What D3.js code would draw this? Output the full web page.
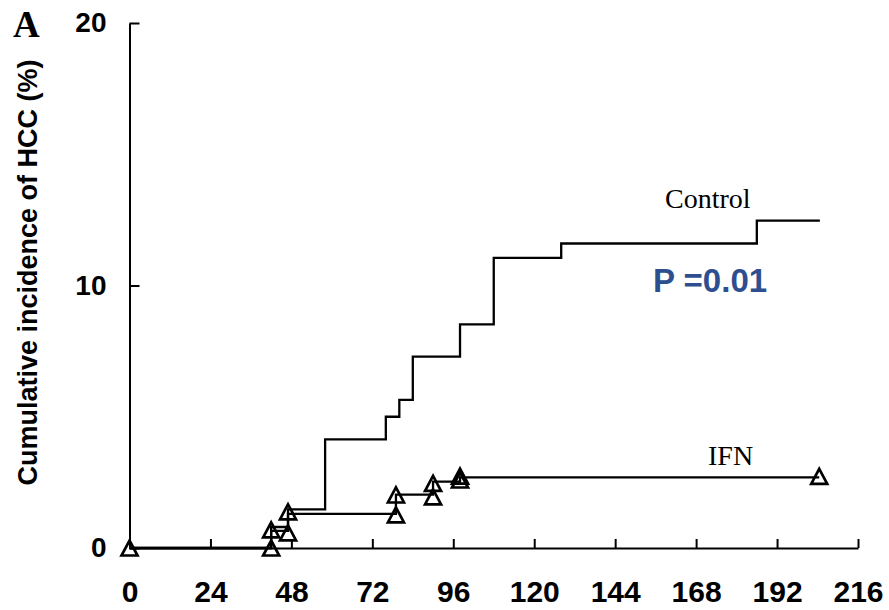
<!DOCTYPE html>
<html>
<head>
<meta charset="utf-8">
<script src="https://cdn.jsdelivr.net/npm/d3@7"></script>
<style>
  body { margin: 0; background: #fff; }
  svg { display: block; }
</style>
</head>
<body>
<script>
// Step curves (months, cumulative % after each step)
var controlMonths = [0, 42, 47, 58, 76, 80, 84, 98, 108, 128, 186, 204.7];
var controlPct    = [0, 0.8, 1.47, 4.14, 5.0, 5.64, 7.29, 8.52, 11.05, 11.6, 12.47, 12.47];

var ifnMonths = [0, 42, 47, 79, 90, 98, 204.5];
var ifnPct    = [0, 0.65, 1.3, 2.03, 2.53, 2.69, 2.69];

// triangle marks on the IFN curve
var ifnMarkMonths = [0, 42, 42, 47, 47, 79, 79, 90, 90, 98, 98, 204.5];
var ifnMarkPct    = [0, 0, 0.69, 0.58, 1.38, 1.26, 2.02, 1.95, 2.46, 2.59, 2.74, 2.73];

var xTicks = [0, 24, 48, 72, 96, 120, 144, 168, 192, 216];
var yTicks = [0, 10, 20];

var w = 889, h = 610;

var svg = d3.select("body").append("svg")
    .attr("width", w)
    .attr("height", h);

var x = d3.scaleLinear().domain([0, 216]).range([129.5, 858]);
var y = d3.scaleLinear().domain([0, 20]).range([548, 23]);

// axes
var xAxis = svg.append("g")
    .attr("transform", "translate(0," + y(0) + ")")
    .call(d3.axisBottom(x).tickValues(xTicks).tickSizeInner(-9).tickSizeOuter(0).tickPadding(33));

var yAxis = svg.append("g")
    .attr("transform", "translate(" + x(0) + ",0)")
    .call(d3.axisLeft(y).tickValues(yTicks).tickSizeInner(-10).tickSizeOuter(0).tickPadding(23));

svg.selectAll(".domain, .tick line")
    .attr("stroke", "#000")
    .attr("stroke-width", 2);

xAxis.selectAll("text")
    .attr("font-family", "Liberation Sans, Arial, sans-serif")
    .attr("font-weight", "bold")
    .attr("font-size", "30px")
    .attr("fill", "#000");

yAxis.selectAll("text")
    .attr("font-family", "Liberation Sans, Arial, sans-serif")
    .attr("font-weight", "bold")
    .attr("font-size", "28px")
    .attr("fill", "#000");

// step lines
function toPoints(months, pct) {
    return months.map(function (m, i) { return [m, pct[i]]; });
}

var stepLine = d3.line()
    .x(function (d) { return x(d[0]); })
    .y(function (d) { return y(d[1]); })
    .curve(d3.curveStepAfter);

svg.append("path")
    .datum(toPoints(ifnMonths, ifnPct))
    .attr("d", stepLine)
    .attr("fill", "none")
    .attr("stroke", "#000")
    .attr("stroke-width", 2.3);

svg.append("path")
    .datum(toPoints(controlMonths, controlPct))
    .attr("d", stepLine)
    .attr("fill", "none")
    .attr("stroke", "#000")
    .attr("stroke-width", 2.3);

// triangles
svg.selectAll(".mark")
    .data(toPoints(ifnMarkMonths, ifnMarkPct))
    .enter()
    .append("path")
    .attr("class", "mark")
    .attr("d", "M0,-8.5L8,6.5L-8,6.5Z")
    .attr("transform", function (d) {
        return "translate(" + x(d[0]) + "," + (y(d[1]) + 1) + ")";
    })
    .attr("fill", "none")
    .attr("stroke", "#000")
    .attr("stroke-width", 2.7);

// labels
svg.append("text")
    .attr("transform", "translate(37,272.5) rotate(-90)")
    .attr("text-anchor", "middle")
    .attr("font-family", "Liberation Sans, Arial, sans-serif")
    .attr("font-weight", "bold")
    .attr("font-size", "27px")
    .text("Cumulative incidence of HCC (%)");

svg.append("text")
    .attr("x", 13)
    .attr("y", 37.3)
    .attr("font-family", "Liberation Serif, Times New Roman, serif")
    .attr("font-weight", "bold")
    .attr("font-size", "37px")
    .text("A");

svg.append("text")
    .attr("x", 665)
    .attr("y", 207.5)
    .attr("font-family", "Liberation Serif, Times New Roman, serif")
    .attr("font-size", "28px")
    .text("Control");

svg.append("text")
    .attr("x", 708)
    .attr("y", 465)
    .attr("font-family", "Liberation Serif, Times New Roman, serif")
    .attr("font-size", "28px")
    .text("IFN");

svg.append("text")
    .attr("x", 653)
    .attr("y", 291.7)
    .attr("font-family", "Liberation Sans, Arial, sans-serif")
    .attr("font-weight", "bold")
    .attr("font-size", "33px")
    .attr("fill", "#2E4F8F")
    .text("P =0.01");
</script>
</body>
</html>
